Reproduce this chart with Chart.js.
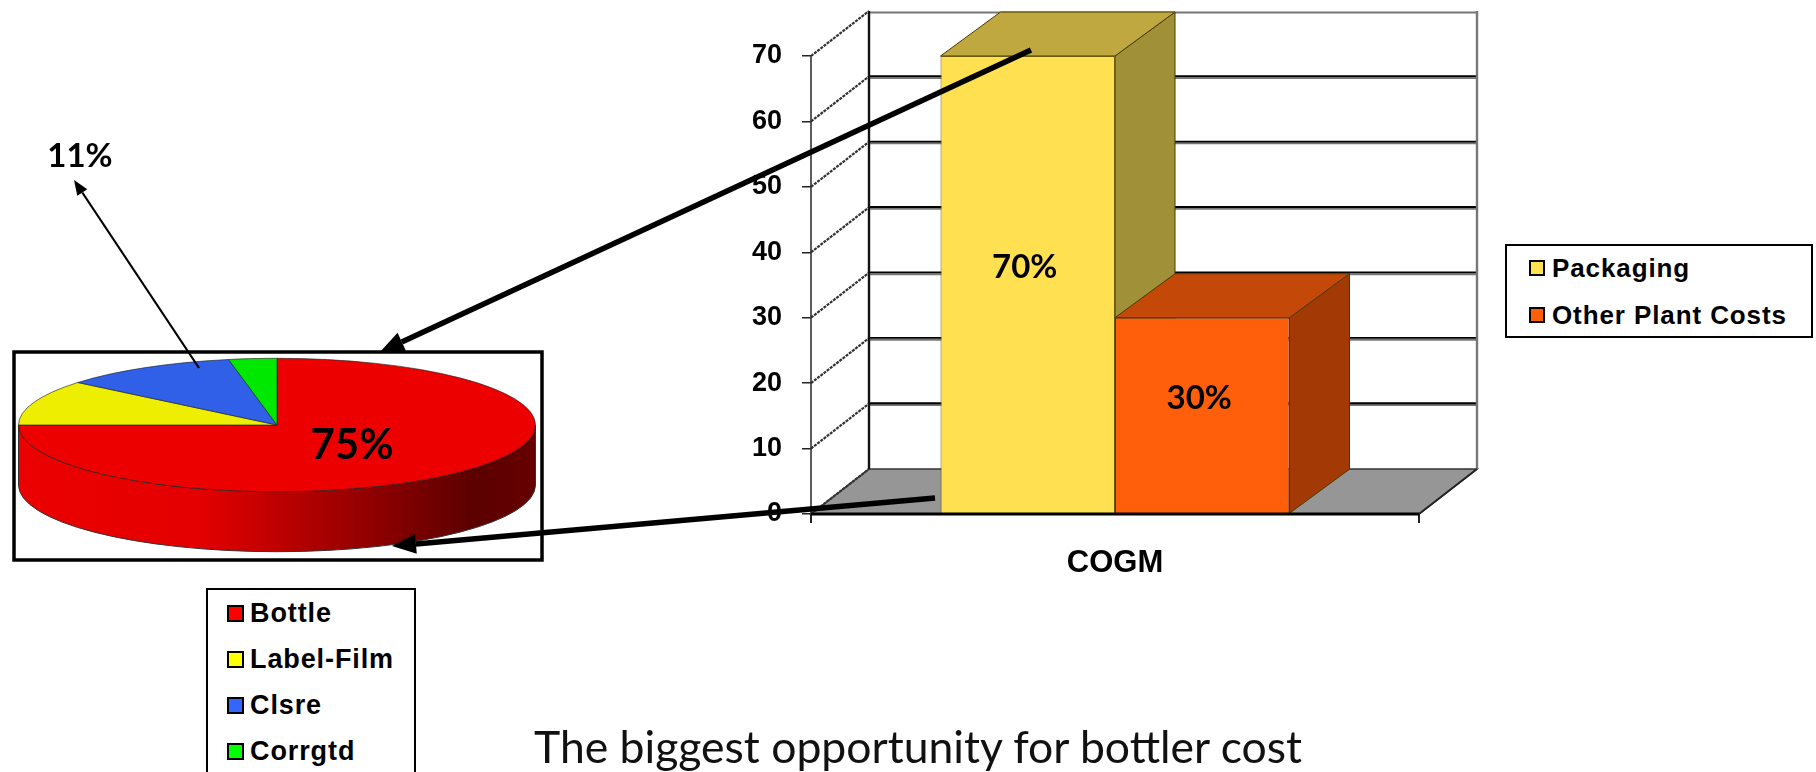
<!DOCTYPE html>
<html><head><meta charset="utf-8">
<script src="https://cdn.jsdelivr.net/npm/chart.js@4"></script>
<style>
html,body{margin:0;padding:0;background:#fff;width:1816px;height:772px;overflow:hidden}
canvas{position:absolute;left:0;top:0}
#pie{pointer-events:none}
.leg{position:absolute;background:#fff;border:2px solid #000;box-sizing:border-box;font:bold 27px "Liberation Sans",Arial,sans-serif;color:#000;white-space:nowrap}
.leg div{position:absolute;line-height:30px}
.leg i{position:absolute;box-sizing:border-box;border:2px solid #000;display:block}
#legPie{left:206px;top:588px;width:210px;height:200px;border-width:2.5px;letter-spacing:.9px}
#legBar{left:1505px;top:244px;width:308px;height:94px;letter-spacing:.9px;font-size:26px}
#note{position:absolute;left:534px;top:719px;font:44.5px Lato,sans-serif;color:#111;white-space:nowrap}
</style></head><body>
<canvas id="bar" width="1816" height="772"></canvas>
<canvas id="pie" width="1816" height="772"></canvas>
<div id="legPie" class="leg"></div>
<div id="legBar" class="leg"></div>
<div id="note">The biggest opportunity for bottler cost</div>
<script>
const barCategories = ["COGM"];
const barSeriesNames = ["Packaging", "Other Plant Costs"];
const packagingValues = [70];
const otherPlantValues = [30];
const yTicks = [0, 10, 20, 30, 40, 50, 60, 70];
const pieCategories = ["Bottle", "Label-Film", "Clsre", "Corrgtd"];
const pieValues = [75, 11, 11, 3];
const pieColors = ["#EC0000", "#EEEE00", "#3060E8", "#00E800"];
const pieLegendColors = ["#FF0000", "#FFFF00", "#3366FF", "#00FF00"];
const barColors = ["#FFE050", "#FF5E0B"];
const barTopColors = ["#BFA840", "#C44808"];
const barSideColors = ["#A09038", "#A33A06"];

Chart.defaults.animation = false;
const DX = 58, DY = 45, BDX = 60, BDY = 44;

const wall3d = {
  id: 'wall3d',
  beforeDatasetsDraw(c){
    const g = c.ctx, y = c.scales.y;
    const L = c.chartArea.left, R = c.chartArea.right, B = y.getPixelForValue(0);
    g.save();
    g.fillStyle = '#969696';
    g.beginPath(); g.moveTo(L,B); g.lineTo(R,B); g.lineTo(R+DX,B-DY); g.lineTo(L+DX,B-DY); g.closePath(); g.fill();
    g.lineWidth = 1.5; g.strokeStyle = '#333'; g.stroke();
    g.strokeStyle = '#333'; g.lineWidth = 2.2; g.setLineDash([3,1]);
    yTicks.forEach(v=>{ const p=y.getPixelForValue(v); g.beginPath(); g.moveTo(L,p); g.lineTo(L+DX,p-DY); g.stroke(); });
    g.setLineDash([]);
    yTicks.forEach(v=>{ if(!v) return; const p=y.getPixelForValue(v)-DY;
      g.strokeStyle='#777'; g.lineWidth=2; g.beginPath(); g.moveTo(L+DX,p+1.5); g.lineTo(R+DX,p+1.5); g.stroke();
      if(v<70){ g.strokeStyle='#000'; g.lineWidth=1.8; g.beginPath(); g.moveTo(L+DX,p-.3); g.lineTo(R+DX,p-.3); g.stroke(); }
    });
    const T = y.getPixelForValue(70)-DY;
    g.strokeStyle='#111'; g.lineWidth=2.4; g.beginPath(); g.moveTo(L+DX,T); g.lineTo(L+DX,B-DY); g.stroke();
    g.strokeStyle='#777'; g.beginPath(); g.moveTo(R+DX,T); g.lineTo(R+DX,B-DY); g.stroke();
    g.strokeStyle='#222'; g.lineWidth=1.8; g.beginPath(); g.moveTo(R,B); g.lineTo(R+DX,B-DY); g.stroke();
    g.lineWidth=1.6; g.strokeStyle='#333'; g.beginPath(); g.moveTo(L,B); g.lineTo(L,y.getPixelForValue(70)); g.stroke();
    [0,1].forEach(i=>{
      const b = c.getDatasetMeta(i).data[0];
      const l=b.x-b.width/2, r=b.x+b.width/2, t=b.y, bt=b.base;
      g.strokeStyle='#4a3a00'; g.lineWidth=1;
      g.fillStyle=barSideColors[i];
      g.beginPath(); g.moveTo(r,t); g.lineTo(r+BDX,t-BDY); g.lineTo(r+BDX,bt-BDY); g.lineTo(r,bt); g.closePath(); g.fill(); g.stroke();
      g.fillStyle=barTopColors[i];
      g.beginPath(); g.moveTo(l,t); g.lineTo(l+BDX,t-BDY); g.lineTo(r+BDX,t-BDY); g.lineTo(r,t); g.closePath(); g.fill(); g.stroke();
    });
    g.restore();
  },
  afterDatasetsDraw(c){
    const g=c.ctx;
    g.save();
    g.fillStyle='#000'; g.font='bold 33px Lato,sans-serif'; g.textAlign='center'; g.textBaseline='middle';
    [0,1].forEach(i=>{
      const b=c.getDatasetMeta(i).data[0];
      const v=c.data.datasets[i].data[0];
      g.fillText(v+'%', b.x-3, (b.y+b.base)/2-17);
    });
    const B=c.scales.y.getPixelForValue(0), L=c.chartArea.left, R=c.chartArea.right;
    g.strokeStyle='#000'; g.lineWidth=3; g.beginPath(); g.moveTo(L,B); g.lineTo(R,B); g.stroke();
    g.restore();
  }
};

new Chart(document.getElementById('bar'), {
  type:'bar',
  data:{ labels:barCategories, datasets:[
    {label:barSeriesNames[0], data:packagingValues, backgroundColor:barColors[0], borderColor:'#6a5a10', borderWidth:1},
    {label:barSeriesNames[1], data:otherPlantValues, backgroundColor:barColors[1], borderColor:'#6a3000', borderWidth:1}
  ]},
  plugins:[wall3d],
  options:{
    responsive:false, devicePixelRatio:1,
    layout:{padding:{left:711,right:397,top:56,bottom:158}},
    plugins:{legend:{display:false},tooltip:{enabled:false},title:{display:false}},
    datasets:{bar:{categoryPercentage:0.574,barPercentage:1}},
    scales:{
      y:{min:0,max:70,
        ticks:{stepSize:10,color:'#000',padding:20,font:{family:'"Liberation Sans"',weight:'bold',size:27}},
        grid:{drawOnChartArea:false,drawTicks:true,tickLength:9,color:'#222',lineWidth:1.5},
        border:{display:false},
        afterFit(s){s.width=100;s.paddingTop=0;s.paddingBottom=0;}},
      x:{
        ticks:{color:'#000',padding:22,font:{family:'"Liberation Sans"',weight:'bold',size:31}},
        grid:{drawOnChartArea:false,drawTicks:true,tickLength:9,color:'#222',lineWidth:2},
        border:{display:false},
        afterFit(s){s.paddingLeft=0;s.paddingRight=0;s.height=100;}}
    }
  }
});

function arrow(g,x1,y1,x2,y2,w,hl,hw){
  const a=Math.atan2(y2-y1,x2-x1), bx=x2-hl*Math.cos(a), by=y2-hl*Math.sin(a);
  g.strokeStyle='#000'; g.fillStyle='#000'; g.lineWidth=w; g.lineCap='butt';
  g.beginPath(); g.moveTo(x1,y1); g.lineTo(bx,by); g.stroke();
  g.beginPath(); g.moveTo(x2,y2);
  g.lineTo(bx-hw*Math.sin(a),by+hw*Math.cos(a)); g.lineTo(bx+hw*Math.sin(a),by-hw*Math.cos(a)); g.closePath(); g.fill();
}

const K = 0.258, DEPTH = 60;
const pie3d = {
  id:'pie3d',
  beforeDatasetsDraw(c){
    const g=c.ctx, a=c.getDatasetMeta(0).data[0], cx=a.x, cy=a.y, rx=a.outerRadius, ry=rx*K;
    g.save();
    g.strokeStyle='#000'; g.lineWidth=3.5; g.strokeRect(14,352,528,208);
    const gr=g.createLinearGradient(cx-rx,0,cx+rx,0);
    gr.addColorStop(0,'#EC0000'); gr.addColorStop(.35,'#E40000'); gr.addColorStop(.62,'#A00000'); gr.addColorStop(.88,'#5C0000'); gr.addColorStop(1,'#660000');
    g.fillStyle=gr; g.strokeStyle='#333'; g.lineWidth=1;
    g.beginPath(); g.moveTo(cx-rx,cy); g.lineTo(cx-rx,cy+DEPTH);
    g.ellipse(cx,cy+DEPTH,rx,ry,0,Math.PI,0,true); g.lineTo(cx+rx,cy);
    g.ellipse(cx,cy,rx,ry,0,0,Math.PI,false); g.closePath(); g.fill(); g.stroke();
    g.restore();
    g.save();
    g.translate(cx,cy); g.scale(1,K); g.translate(-cx,-cy);
  },
  afterDatasetsDraw(c){
    const g=c.ctx; g.restore();
    const a=c.getDatasetMeta(0).data[0], cx=a.x, cy=a.y;
    g.save();
    g.fillStyle='#000'; g.textAlign='center'; g.textBaseline='middle';
    g.font='bold 42px Lato,sans-serif';
    g.fillText(pieValues[0]+'%', cx+75, cy+20);
    g.font='bold 33px Lato,sans-serif';
    g.fillText(pieValues[2]+'%', 80, 156);
    arrow(g,199,368,74,180,2.2,15,6);
    arrow(g,1031,50,380,352,5.5,24,10);
    arrow(g,935,498,392,546,5.5,24,10);
    g.restore();
  }
};

new Chart(document.getElementById('pie'), {
  type:'pie',
  data:{labels:pieCategories,datasets:[{data:pieValues,backgroundColor:pieColors,borderColor:'#222',borderWidth:1}]},
  plugins:[pie3d],
  options:{
    responsive:false, devicePixelRatio:1, events:[],
    layout:{padding:{left:18,right:1280,top:166,bottom:88}},
    plugins:{legend:{display:false},tooltip:{enabled:false}}
  }
});

function legend(id,names,colors,rows,swx,txx,sw){
  const el=document.getElementById(id);
  names.forEach((n,i)=>{
    const s=document.createElement('i');
    s.style.cssText=`left:${swx}px;top:${rows[i]-sw/2}px;width:${sw}px;height:${sw}px;background:${colors[i]}`;
    const t=document.createElement('div');
    t.style.cssText=`left:${txx}px;top:${rows[i]-15}px`;
    t.textContent=n;
    el.appendChild(s); el.appendChild(t);
  });
}
legend('legPie',pieCategories,pieLegendColors,[23,69,115,161],19,42,17);
legend('legBar',barSeriesNames,barColors,[22,69],22,45,16);
</script>
</body></html>
